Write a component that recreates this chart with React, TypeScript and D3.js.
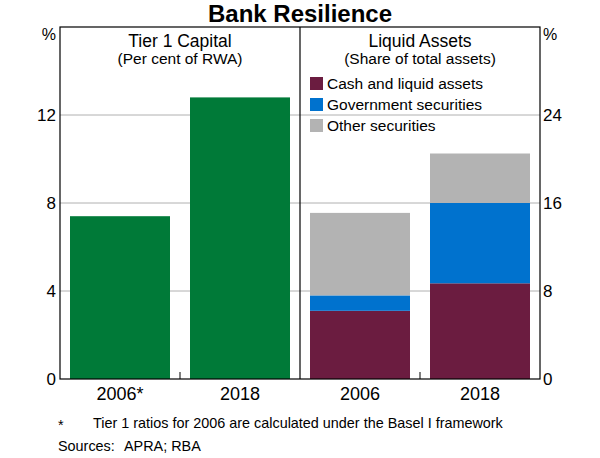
import React from "react";
import * as d3 from "d3";

const tierCategories = ["2006*", "2018"];
const tierValues = [7.4, 12.8];

const liquidCategories = ["2006", "2018"];
const seriesNames = ["Cash and liquid assets", "Government securities", "Other securities"];
const cashValues = [6.2, 8.7];
const govValues = [1.4, 7.3];
const otherValues = [7.5, 4.5];

const leftTicks = [0, 4, 8, 12];
const rightTicks = [0, 8, 16, 24];

const colors = ["#6B1C40", "#0072CE", "#B3B3B3"];
const green = "#007A38";

export default function App() {
  const W = 600, H = 458;
  const x0 = 60, x1 = 540, xm = 300, yTop = 27, yBot = 379;
  const font = "Arial, 'Liberation Sans', sans-serif";

  const yL = d3.scaleLinear().domain([0, 16]).range([yBot, yTop]);
  const yR = d3.scaleLinear().domain([0, 32]).range([yBot, yTop]);
  const xL = d3.scaleBand().domain(tierCategories).range([x0, xm]).paddingInner(1 / 6).paddingOuter(1 / 12);
  const xR = d3.scaleBand().domain(liquidCategories).range([xm, x1]).paddingInner(1 / 6).paddingOuter(1 / 12);

  const stackData = liquidCategories.map((c, i) => ({ cat: c, s0: cashValues[i], s1: govValues[i], s2: otherValues[i] }));
  const stack = d3.stack<any>().keys(["s0", "s1", "s2"])(stackData);

  return (
    <svg width={W} height={H} style={{ position: "absolute", left: 0, top: 0 }} fontFamily={font}>
      <rect x={0} y={0} width={W} height={H} fill="#fff" />
      <text x={300} y={22} textAnchor="middle" fontSize={24} fontWeight="bold">Bank Resilience</text>

      {leftTicks.filter(t => t > 0).map(t => (
        <line key={t} x1={x0} x2={x1} y1={yL(t)} y2={yL(t)} stroke="#B0B0B0" strokeWidth={1} />
      ))}

      {tierCategories.map((c, i) => (
        <rect key={c} x={xL(c)} y={yL(tierValues[i])} width={xL.bandwidth()} height={yBot - yL(tierValues[i])} fill={green} />
      ))}

      {stack.map((layer, li) => layer.map((d, i) => (
        <rect key={li + "-" + i} x={xR(liquidCategories[i])} y={yR(d[1])} width={xR.bandwidth()} height={yR(d[0]) - yR(d[1])} fill={colors[li]} />
      )))}

      <rect x={x0} y={yTop} width={x1 - x0} height={yBot - yTop} fill="none" stroke="#000" strokeWidth={1.2} />
      <line x1={xm} x2={xm} y1={yTop} y2={yBot} stroke="#000" strokeWidth={1.2} />
      {[ (xL(tierCategories[0])! + xL.bandwidth() + xL(tierCategories[1])!) / 2,
         (xR(liquidCategories[0])! + xR.bandwidth() + xR(liquidCategories[1])!) / 2 ].map((tx, i) => (
        <line key={i} x1={tx} x2={tx} y1={yBot} y2={yBot - 7} stroke="#000" strokeWidth={1} />
      ))}

      {leftTicks.map(t => (
        <text key={t} x={x0 - 4} y={yL(t) + 6} textAnchor="end" fontSize={17}>{t}</text>
      ))}
      {rightTicks.map(t => (
        <text key={t} x={x1 + 3} y={yR(t) + 6} textAnchor="start" fontSize={17}>{t}</text>
      ))}
      <text x={x0 - 4} y={40} textAnchor="end" fontSize={16}>%</text>
      <text x={x1 + 3} y={40} textAnchor="start" fontSize={16}>%</text>

      <text x={180} y={47} textAnchor="middle" fontSize={17.5}>Tier 1 Capital</text>
      <text x={180} y={64} textAnchor="middle" fontSize={15.5}>(Per cent of RWA)</text>
      <text x={420} y={47} textAnchor="middle" fontSize={17.5}>Liquid Assets</text>
      <text x={420} y={64} textAnchor="middle" fontSize={15.5}>(Share of total assets)</text>

      {seriesNames.map((n, i) => (
        <g key={n}>
          <rect x={310} y={77 + i * 21} width={13} height={13} fill={colors[i]} />
          <text x={327} y={89 + i * 21} fontSize={15.5}>{n}</text>
        </g>
      ))}

      {tierCategories.map(c => (
        <text key={c} x={xL(c)! + xL.bandwidth() / 2} y={400} textAnchor="middle" fontSize={18}>{c}</text>
      ))}
      {liquidCategories.map(c => (
        <text key={c} x={xR(c)! + xR.bandwidth() / 2} y={400} textAnchor="middle" fontSize={18}>{c}</text>
      ))}

      <text x={58} y={430} fontSize={14.4}>*</text>
      <text x={93} y={428} fontSize={14.4}>Tier 1 ratios for 2006 are calculated under the Basel I framework</text>
      <text x={58} y={451} fontSize={14.4}>Sources:</text>
      <text x={124} y={451} fontSize={14.4}>APRA; RBA</text>
    </svg>
  );
}
